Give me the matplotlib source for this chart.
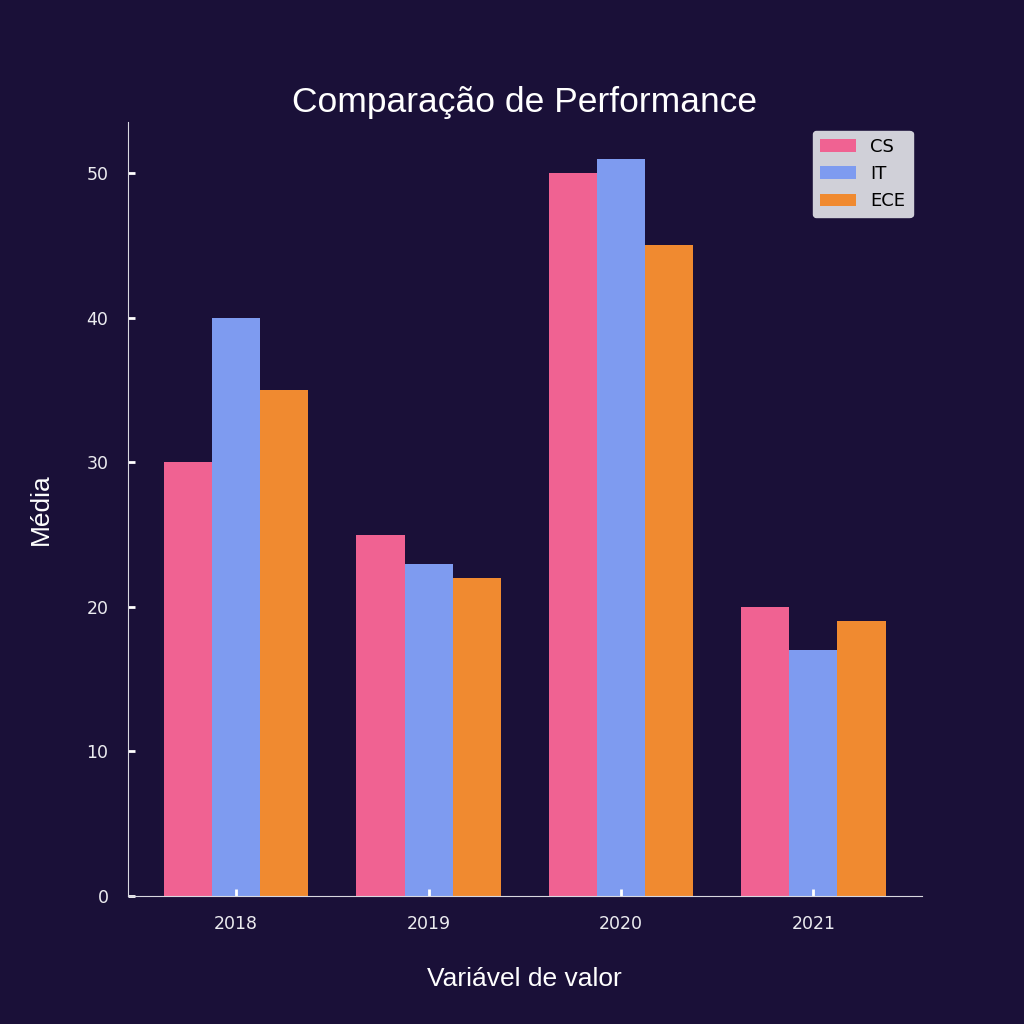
import matplotlib.pyplot as plt
import numpy as np

years = ['2018', '2019', '2020', '2021']
cs = [30, 25, 50, 20]
it = [40, 23, 51, 17]
ece = [35, 22, 45, 19]

bg = '#1a1038'
fig = plt.figure(figsize=(10.24, 10.24), dpi=100, facecolor=bg)
ax = fig.add_axes([0.125, 0.125, 0.775, 0.756])
ax.set_facecolor(bg)

index = np.arange(len(years))
w = 0.25
ax.bar(index - w, cs, width=w, color='#f06292', label='CS')
ax.bar(index, it, width=w, color='#7e9bf0', label='IT')
ax.bar(index + w, ece, width=w, color='#f08a30', label='ECE')

ax.set_xticks(index, years)
ax.set_title('Comparação de Performance', color='white', fontsize=25.5,
             family='Liberation Sans', pad=7)
ax.set_xlabel('Variável de valor', color='white', fontsize=19,
              family='Liberation Sans', labelpad=24)
ax.set_ylabel('Média', color='white', fontsize=19,
              family='Liberation Sans', labelpad=24)

for s in ['top', 'right']:
    ax.spines[s].set_visible(False)
for s in ['left', 'bottom']:
    ax.spines[s].set_color('#d8d8e0')
ax.tick_params(direction='in', colors='white', labelcolor='#ececf0',
               labelsize=12.5, width=2, length=5, pad=14)

leg = ax.legend(loc='upper right', facecolor='#d0d0d8', framealpha=1,
                edgecolor='#d0d0d8', fontsize=13)
for t in leg.get_texts():
    t.set_color('black')

fig.savefig('out.png', facecolor=bg)
